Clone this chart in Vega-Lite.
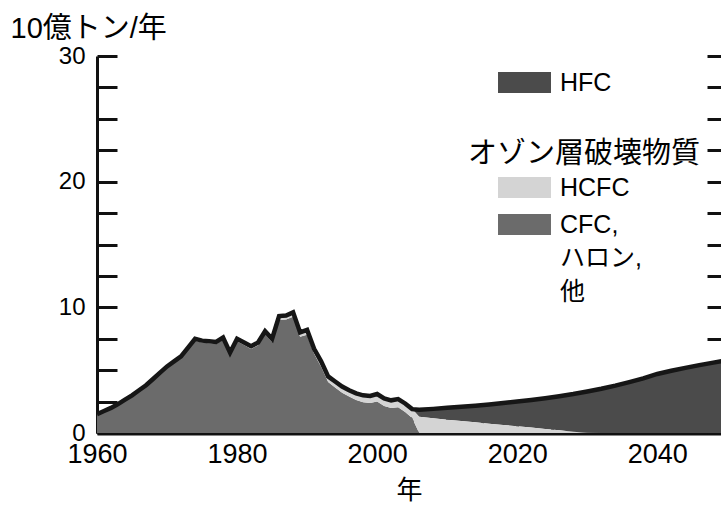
{
  "$schema": "https://vega.github.io/schema/vega-lite/v6.json",
  "width": 624,
  "height": 377,
  "autosize": "none",
  "padding": {"left": 97, "top": 56, "right": 0, "bottom": 73},
  "background": "white",
  "config": {
    "view": {"stroke": null},
    "font": "Liberation Sans, Noto Sans CJK JP, sans-serif",
    "axis": {"labelFont": "Liberation Sans, Noto Sans CJK JP, sans-serif", "titleFont": "Liberation Sans, Noto Sans CJK JP, sans-serif", "labelColor": "#000", "titleColor": "#000", "titleFontWeight": "normal"},
    "legend": {"labelFont": "Liberation Sans, Noto Sans CJK JP, sans-serif", "titleFont": "Liberation Sans, Noto Sans CJK JP, sans-serif", "labelColor": "#000", "titleColor": "#000", "titleFontWeight": "normal", "padding": 0}
  },
  "data": {"values": [
    {"year":1960,"CFC":1.45,"HCFC":0.05,"HFC":0},
    {"year":1961,"CFC":1.70,"HCFC":0.05,"HFC":0},
    {"year":1962,"CFC":1.95,"HCFC":0.05,"HFC":0},
    {"year":1963,"CFC":2.24,"HCFC":0.06,"HFC":0},
    {"year":1964,"CFC":2.59,"HCFC":0.06,"HFC":0},
    {"year":1965,"CFC":2.93,"HCFC":0.07,"HFC":0},
    {"year":1966,"CFC":3.33,"HCFC":0.07,"HFC":0},
    {"year":1967,"CFC":3.72,"HCFC":0.08,"HFC":0},
    {"year":1968,"CFC":4.22,"HCFC":0.08,"HFC":0},
    {"year":1969,"CFC":4.71,"HCFC":0.09,"HFC":0},
    {"year":1970,"CFC":5.20,"HCFC":0.10,"HFC":0},
    {"year":1971,"CFC":5.60,"HCFC":0.10,"HFC":0},
    {"year":1972,"CFC":5.98,"HCFC":0.12,"HFC":0},
    {"year":1973,"CFC":6.67,"HCFC":0.13,"HFC":0},
    {"year":1974,"CFC":7.35,"HCFC":0.15,"HFC":0},
    {"year":1975,"CFC":7.20,"HCFC":0.15,"HFC":0},
    {"year":1976,"CFC":7.14,"HCFC":0.16,"HFC":0},
    {"year":1977,"CFC":7.08,"HCFC":0.17,"HFC":0},
    {"year":1978,"CFC":7.42,"HCFC":0.18,"HFC":0},
    {"year":1979,"CFC":6.22,"HCFC":0.18,"HFC":0},
    {"year":1980,"CFC":7.30,"HCFC":0.20,"HFC":0},
    {"year":1981,"CFC":7.00,"HCFC":0.20,"HFC":0},
    {"year":1982,"CFC":6.69,"HCFC":0.21,"HFC":0},
    {"year":1983,"CFC":6.98,"HCFC":0.22,"HFC":0},
    {"year":1984,"CFC":7.86,"HCFC":0.24,"HFC":0},
    {"year":1985,"CFC":7.25,"HCFC":0.25,"HFC":0},
    {"year":1986,"CFC":9.00,"HCFC":0.30,"HFC":0},
    {"year":1987,"CFC":9.03,"HCFC":0.32,"HFC":0},
    {"year":1988,"CFC":9.25,"HCFC":0.35,"HFC":0},
    {"year":1989,"CFC":7.65,"HCFC":0.35,"HFC":0},
    {"year":1990,"CFC":7.82,"HCFC":0.38,"HFC":0},
    {"year":1991,"CFC":6.30,"HCFC":0.40,"HFC":0},
    {"year":1992,"CFC":5.28,"HCFC":0.42,"HFC":0},
    {"year":1993,"CFC":4.05,"HCFC":0.45,"HFC":0},
    {"year":1994,"CFC":3.63,"HCFC":0.47,"HFC":0},
    {"year":1995,"CFC":3.20,"HCFC":0.50,"HFC":0},
    {"year":1996,"CFC":2.90,"HCFC":0.50,"HFC":0},
    {"year":1997,"CFC":2.63,"HCFC":0.52,"HFC":0},
    {"year":1998,"CFC":2.45,"HCFC":0.55,"HFC":0},
    {"year":1999,"CFC":2.38,"HCFC":0.57,"HFC":0},
    {"year":2000,"CFC":2.50,"HCFC":0.60,"HFC":0},
    {"year":2001,"CFC":2.15,"HCFC":0.60,"HFC":0},
    {"year":2002,"CFC":1.98,"HCFC":0.62,"HFC":0},
    {"year":2003,"CFC":2.05,"HCFC":0.65,"HFC":0},
    {"year":2004,"CFC":1.68,"HCFC":0.67,"HFC":0},
    {"year":2005,"CFC":1.20,"HCFC":0.70,"HFC":0},
    {"year":2006,"CFC":0,"HCFC":1.30,"HFC":0.55},
    {"year":2008,"CFC":0,"HCFC":1.18,"HFC":0.74},
    {"year":2010,"CFC":0,"HCFC":1.06,"HFC":0.94},
    {"year":2012,"CFC":0,"HCFC":0.95,"HFC":1.13},
    {"year":2014,"CFC":0,"HCFC":0.85,"HFC":1.32},
    {"year":2016,"CFC":0,"HCFC":0.74,"HFC":1.53},
    {"year":2018,"CFC":0,"HCFC":0.64,"HFC":1.74},
    {"year":2020,"CFC":0,"HCFC":0.54,"HFC":1.96},
    {"year":2022,"CFC":0,"HCFC":0.43,"HFC":2.20},
    {"year":2024,"CFC":0,"HCFC":0.32,"HFC":2.45},
    {"year":2026,"CFC":0,"HCFC":0.21,"HFC":2.72},
    {"year":2028,"CFC":0,"HCFC":0.10,"HFC":3.00},
    {"year":2030,"CFC":0,"HCFC":0.02,"HFC":3.28},
    {"year":2032,"CFC":0,"HCFC":0,"HFC":3.52},
    {"year":2034,"CFC":0,"HCFC":0,"HFC":3.77},
    {"year":2036,"CFC":0,"HCFC":0,"HFC":4.05},
    {"year":2038,"CFC":0,"HCFC":0,"HFC":4.35},
    {"year":2040,"CFC":0,"HCFC":0,"HFC":4.70},
    {"year":2042,"CFC":0,"HCFC":0,"HFC":4.95},
    {"year":2044,"CFC":0,"HCFC":0,"HFC":5.18},
    {"year":2046,"CFC":0,"HCFC":0,"HFC":5.40},
    {"year":2048,"CFC":0,"HCFC":0,"HFC":5.60},
    {"year":2050,"CFC":0,"HCFC":0,"HFC":5.80}
  ]},
  "transform": [
    {"fold": ["CFC", "HCFC", "HFC"], "as": ["type", "value"]},
    {"stack": "value", "groupby": ["year"], "sort": [{"field": "type", "order": "ascending"}], "as": ["v0", "v1"]}
  ],
  "encoding": {
    "x": {
      "field": "year", "type": "quantitative",
      "scale": {"domain": [1960, 2049.1], "nice": false, "zero": false},
      "axis": {
        "values": [1960,1965,1970,1975,1980,1985,1990,1995,2000,2005,2010,2015,2020,2025,2030,2035,2040,2045],
        "format": "d",
        "labelExpr": "datum.value % 20 === 0 ? datum.label : ''",
        "labelFontSize": 27, "labelPadding": 26, "labelOverlap": false, "labelFlush": false, "labelBound": false,
        "domainColor": "#111", "domainWidth": 4,
        "tickColor": "#111", "tickWidth": 3, "tickSize": -18,
        "grid": false,
        "title": "年", "titleFontSize": 26, "titlePadding": 10,
        "encode": {"ticks": {"update": {"y2": {"signal": "datum.value % 10 === 0 ? -18 : -12"}}}}
      }
    }
  },
  "layer": [
    {
      "transform": [{"filter": "datum.type === 'HFC'"}],
      "mark": {"type": "area", "clip": true},
      "encoding": {
        "y": {
          "field": "v1", "type": "quantitative",
          "scale": {"domain": [0, 30], "nice": false},
          "axis": {
            "orient": "left",
            "values": [0,2.5,5,7.5,10,12.5,15,17.5,20,22.5,25,27.5,30],
            "labelExpr": "datum.value % 10 === 0 ? datum.label : ''",
            "labelFontSize": 24, "labelPadding": 32, "labelOverlap": false, "labelFlush": false,
            "domainColor": "#111", "domainWidth": 3,
            "tickColor": "#111", "tickWidth": 3, "tickSize": -20,
            "grid": false,
            "title": "10億トン/年", "titleAngle": 0, "titleX": -87, "titleY": -19,
            "titleAlign": "left", "titleBaseline": "alphabetic", "titleFontSize": 29,
            "encode": {"ticks": {"update": {"x2": {"signal": "datum.value % 10 === 0 ? 20 : 14"}}}}
          }
        },
        "y2": {"field": "v0"},
        "color": {
          "field": "type", "type": "nominal",
          "scale": {"domain": ["HFC"], "range": ["#4b4b4b"]},
          "legend": {
            "title": null, "orient": "none", "legendX": 415, "legendY": 14,
            "symbolType": "M-2.5,-1H2.5V1H-2.5Z", "symbolSize": 449, "symbolStrokeWidth": 0, "symbolOpacity": 1,
            "labelFontSize": 25, "labelOffset": 23
          }
        }
      }
    },
    {
      "transform": [{"filter": "datum.type !== 'HFC'"}],
      "mark": {"type": "area", "clip": true},
      "encoding": {
        "y": {"field": "v1", "type": "quantitative", "scale": {"domain": [0, 30], "nice": false}, "axis": null},
        "y2": {"field": "v0"},
        "fill": {
          "field": "type", "type": "nominal",
          "scale": {"domain": ["HCFC", "CFC"], "range": ["#d4d4d4", "#6b6b6b"]},
          "legend": {
            "title": "オゾン層破壊物質", "titleFontSize": 29, "titlePadding": 6, "titleLimit": 0,
            "orient": "none", "legendX": 371, "legendY": 84,
            "symbolType": "M-2.5,-1H2.5V1H-2.5Z", "symbolSize": 449, "symbolStrokeWidth": 0, "symbolOpacity": 1,
            "symbolOffset": 44,
            "labelFontSize": 25, "labelOffset": 23, "rowPadding": 11,
            "labelExpr": "datum.label === 'CFC' ? ['CFC,', 'ハロン,', '他'] : datum.label",
            "encode": {"labels": {"update": {"lineHeight": {"value": 33.5}}}}
          }
        }
      }
    },
    {
      "mark": {"type": "line", "clip": true, "color": "#161616", "strokeWidth": 4.5},
      "encoding": {
        "y": {
          "aggregate": "sum", "field": "value", "type": "quantitative",
          "scale": {"domain": [0, 30], "nice": false},
          "axis": {
            "orient": "right",
            "values": [0,2.5,5,7.5,10,12.5,15,17.5,20,22.5,25,27.5,30],
            "labels": false, "domain": false, "grid": false, "title": null,
            "tickColor": "#111", "tickWidth": 3, "tickSize": -14,
            "encode": {"ticks": {"update": {"x2": {"signal": "datum.value % 10 === 0 ? -14 : -8"}}}}
          }
        }
      }
    }
  ],
  "resolve": {"axis": {"y": "independent"}}
}
